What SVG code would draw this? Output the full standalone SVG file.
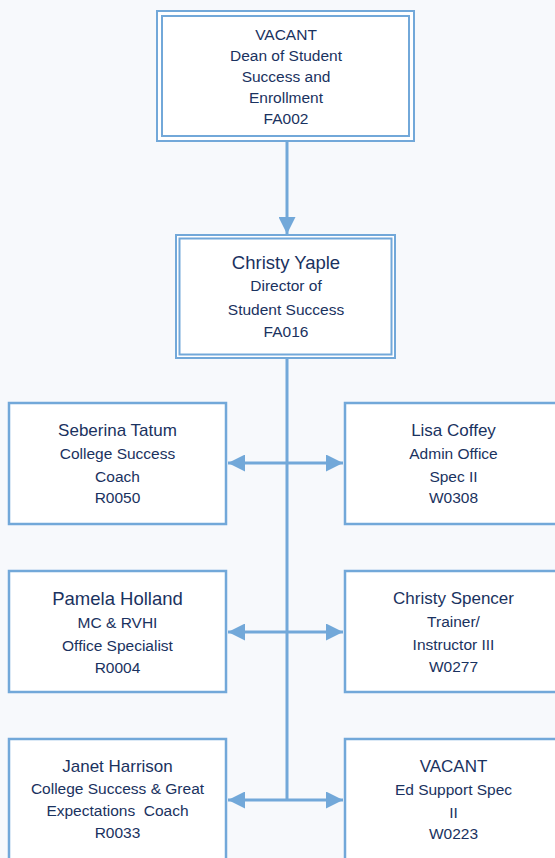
<svg xmlns="http://www.w3.org/2000/svg" width="555" height="858" viewBox="0 0 555 858">
<style>
.bg{fill:#f7f9fc}
.box{fill:#ffffff;stroke:#72a8d9;stroke-width:2.5}
.dbl{fill:none;stroke:#72a8d9;stroke-width:2}
.conn{fill:none;stroke:#72a8d9;stroke-width:3}
text{font-family:"Liberation Sans",Arial,sans-serif;fill:#1a3260;text-anchor:middle;font-size:15.5px;white-space:pre}
.nm{font-size:18.5px}
.nm2{font-size:17px}
</style>
<defs>
<marker id="ah" viewBox="0 0 10 10" refX="10" refY="5" markerWidth="17" markerHeight="17" markerUnits="userSpaceOnUse" orient="auto-start-reverse">
<path d="M0,0 L10,5 L0,10 z" fill="#72a8d9"/>
</marker>
</defs>
<rect class="bg" x="0" y="0" width="555" height="858"/>
<g id="connectors">
<path class="conn" d="M287 141 V234" marker-end="url(#ah)"/>
<path class="conn" d="M287 358 V800"/>
<path class="conn" d="M228 463 H343" marker-start="url(#ah)" marker-end="url(#ah)"/>
<path class="conn" d="M228 632 H343" marker-start="url(#ah)" marker-end="url(#ah)"/>
<path class="conn" d="M228 800 H343" marker-start="url(#ah)" marker-end="url(#ah)"/>
</g>
<g id="dean">
<rect x="157" y="11" width="257" height="130" fill="#ffffff"/>
<rect class="dbl" x="157" y="11" width="257" height="130"/>
<rect class="dbl" x="162" y="16" width="247" height="120"/>
<text x="286" y="40">VACANT</text>
<text x="286" y="61">Dean of Student</text>
<text x="286" y="82">Success and</text>
<text x="286" y="103">Enrollment</text>
<text x="286" y="124">FA002</text>
</g>
<g id="director">
<rect x="176" y="235" width="219" height="123" fill="#ffffff"/>
<rect class="dbl" x="176" y="235" width="219" height="123"/>
<rect class="dbl" x="179.5" y="238.5" width="212" height="116"/>
<text class="nm" x="286" y="269">Christy Yaple</text>
<text x="286" y="291">Director of</text>
<text x="286" y="315">Student Success</text>
<text x="286" y="337">FA016</text>
</g>
<g id="seberina">
<rect class="box" x="9" y="403" width="217" height="121"/>
<text class="nm2" x="117.5" y="436">Seberina Tatum</text>
<text x="117.5" y="459">College Success</text>
<text x="117.5" y="482">Coach</text>
<text x="117.5" y="503">R0050</text>
</g>
<g id="lisa">
<rect class="box" x="345" y="403" width="217" height="121"/>
<text class="nm2" x="453.5" y="436">Lisa Coffey</text>
<text x="453.5" y="459">Admin Office</text>
<text x="453.5" y="482">Spec II</text>
<text x="453.5" y="503">W0308</text>
</g>
<g id="pamela">
<rect class="box" x="9" y="571" width="217" height="121"/>
<text class="nm" x="117.5" y="605">Pamela Holland</text>
<text x="117.5" y="628">MC &amp; RVHI</text>
<text x="117.5" y="651">Office Specialist</text>
<text x="117.5" y="673">R0004</text>
</g>
<g id="spencer">
<rect class="box" x="345" y="571" width="217" height="121"/>
<text class="nm2" x="453.5" y="604">Christy Spencer</text>
<text x="453.5" y="627">Trainer/</text>
<text x="453.5" y="650">Instructor III</text>
<text x="453.5" y="672">W0277</text>
</g>
<g id="janet">
<rect class="box" x="9" y="739" width="217" height="130"/>
<text class="nm2" x="117.5" y="772">Janet Harrison</text>
<text x="117.5" y="794">College Success &amp; Great</text>
<text x="117.5" y="816">Expectations  Coach</text>
<text x="117.5" y="838">R0033</text>
</g>
<g id="vacant-ed">
<rect class="box" x="345" y="739" width="217" height="130"/>
<text class="nm2" x="453.5" y="772">VACANT</text>
<text x="453.5" y="795">Ed Support Spec</text>
<text x="453.5" y="818">II</text>
<text x="453.5" y="839">W0223</text>
</g>
</svg>
